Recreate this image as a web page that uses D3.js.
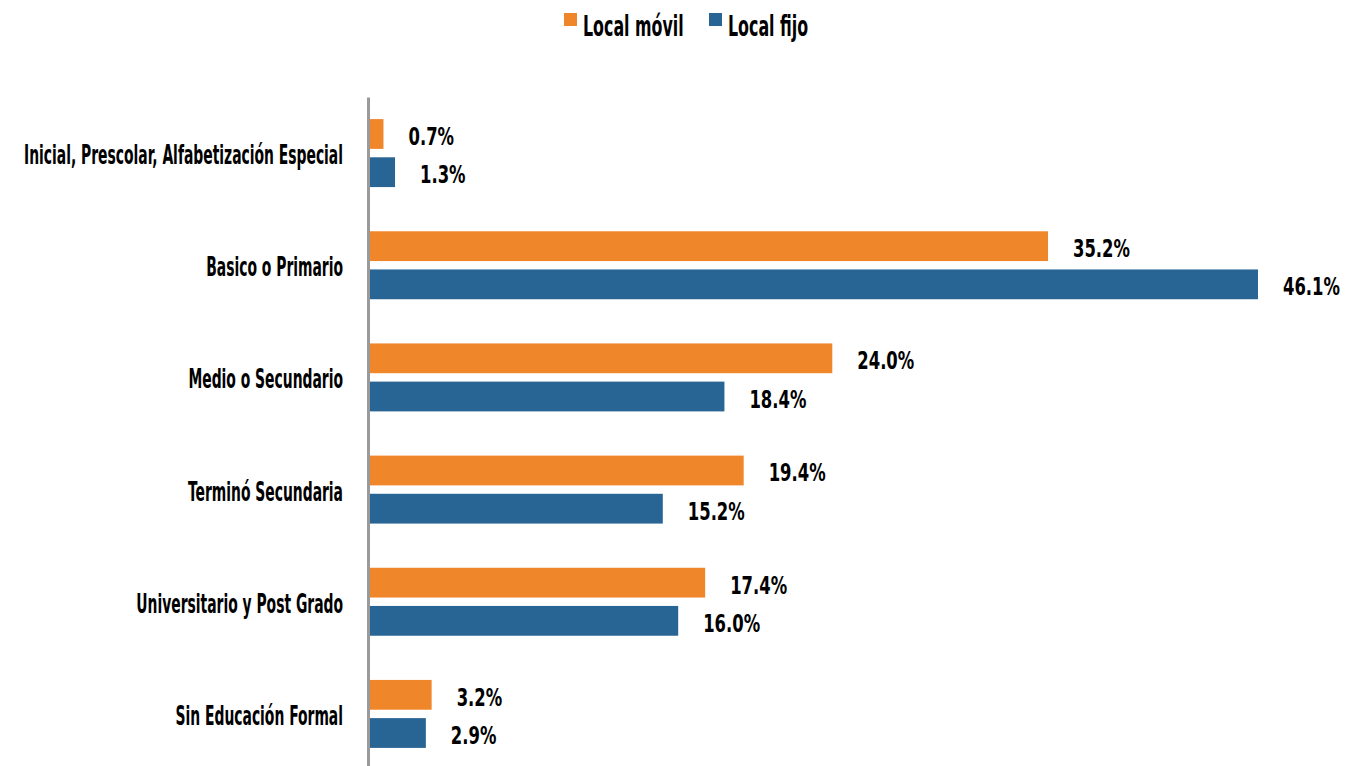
<!DOCTYPE html>
<html><head><meta charset="utf-8">
<script src="https://cdn.jsdelivr.net/npm/d3@7"></script>
<style>
html,body{margin:0;padding:0;background:#fff;}
svg{display:block;}
text{font-family:"Liberation Sans Narrow","DejaVu Sans Condensed",sans-serif;font-weight:bold;fill:#000;}
</style></head>
<body>
<svg id="chart" width="1351" height="766"></svg>
<script>
const categories = ["Inicial, Prescolar, Alfabetización Especial","Basico o Primario","Medio o Secundario","Terminó Secundaria","Universitario y Post Grado","Sin Educación Formal"];
const seriesNames = ["Local móvil","Local fijo"];
const localMovil = [0.7,35.2,24.0,19.4,17.4,3.2];
const localFijo = [1.3,46.1,18.4,15.2,16.0,2.9];
const colors = ["#F0862A","#296594"];

const svg = d3.select("#chart");
const x0 = 370;
const x = d3.scaleLinear().domain([0,46.1]).range([x0,1258]);
const y0 = d3.scaleBand().domain(categories).range([97,770]).paddingInner(0.394).paddingOuter(0.197);
const y1 = d3.scaleBand().domain(seriesNames).range([0,y0.bandwidth()]).paddingInner(0.22);

const data = categories.map((c,i)=>({cat:c, vals:[localMovil[i],localFijo[i]]}));

const g = svg.append("g").selectAll("g").data(data).join("g")
  .attr("transform", d=>`translate(0,${y0(d.cat)})`);
g.selectAll("rect").data(d=>d.vals.map((v,j)=>({v, s:seriesNames[j], j})))
  .join("rect")
  .attr("x", x(0))
  .attr("y", d=>y1(d.s))
  .attr("width", d=>x(d.v)-x(0))
  .attr("height", y1.bandwidth())
  .attr("fill", d=>colors[d.j]);
g.selectAll("text").data(d=>d.vals.map((v,j)=>({v, s:seriesNames[j], j})))
  .join("text")
  .attr("transform", d=>`translate(${x(d.v)+25},${y1(d.s)+y1.bandwidth()/2+11}) scale(0.73,1)`)
  .attr("font-size", 25)
  .text(d=>d.v.toFixed(1)+"%");

// axis
const ax = svg.append("g").attr("transform",`translate(${x0-2},0)`)
  .call(d3.axisLeft(y0).tickSize(0).tickSizeOuter(0).tickPadding(0));
ax.select(".domain").attr("stroke","#9a9a9a").attr("stroke-width",3);
ax.selectAll(".tick text").remove();
svg.append("g").selectAll("text").data(categories).join("text")
  .attr("text-anchor","end")
  .attr("transform", d=>`translate(343,${y0(d)+y0.bandwidth()/2+11}) scale(0.594,1)`)
  .attr("font-size", 26)
  .text(d=>d);

// legend
const legendItems = [{n:seriesNames[0],c:colors[0],x:564},{n:seriesNames[1],c:colors[1],x:709}];
const lg = svg.append("g").selectAll("g").data(legendItems).join("g")
  .attr("transform", d=>`translate(${d.x},0)`);
lg.append("rect").attr("x",0).attr("y",13).attr("width",13).attr("height",13).attr("fill",d=>d.c);
lg.append("text").attr("transform",`translate(19,36) scale(0.608,1)`).attr("font-size",29).text(d=>d.n);
</script>
</body></html>
